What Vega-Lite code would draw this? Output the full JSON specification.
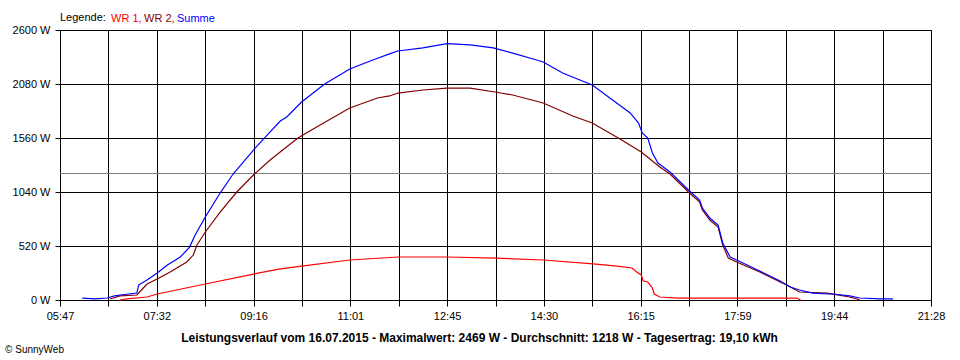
{
  "$schema": "https://vega.github.io/schema/vega-lite/v6.json",
  "autosize": {"type": "none"},
  "padding": {"left": 60, "top": 30, "right": 29, "bottom": 60},
  "width": 871,
  "height": 270,
  "background": "white",
  "title": {
    "text": "© SunnyWeb",
    "orient": "bottom",
    "anchor": "start",
    "frame": "bounds",
    "font": "Liberation Sans",
    "fontSize": 10,
    "fontWeight": "normal",
    "color": "black",
    "offset": 2,
    "dx": -7
  },
  "config": {
    "view": {"stroke": "black", "strokeWidth": 1},
    "axis": {
      "labelFont": "Liberation Sans",
      "labelFontSize": 11,
      "labelColor": "black",
      "titleFont": "Liberation Sans",
      "titleColor": "black",
      "domainColor": "black",
      "tickColor": "black",
      "gridColor": "black",
      "gridOpacity": 1,
      "gridWidth": 1
    },
    "legend": {
      "labelFont": "Liberation Sans",
      "titleFont": "Liberation Sans"
    }
  },
  "datasets": {
    "power": [
      {"s": "WR 1", "t": 412, "w": 0},
      {"s": "WR 1", "t": 419, "w": 10},
      {"s": "WR 1", "t": 441, "w": 29},
      {"s": "WR 1", "t": 452, "w": 58},
      {"s": "WR 1", "t": 504, "w": 154},
      {"s": "WR 1", "t": 556, "w": 250},
      {"s": "WR 1", "t": 585, "w": 299},
      {"s": "WR 1", "t": 608, "w": 327},
      {"s": "WR 1", "t": 660, "w": 385},
      {"s": "WR 1", "t": 712, "w": 414},
      {"s": "WR 1", "t": 765, "w": 414},
      {"s": "WR 1", "t": 818, "w": 404},
      {"s": "WR 1", "t": 869, "w": 385},
      {"s": "WR 1", "t": 923, "w": 347},
      {"s": "WR 1", "t": 949, "w": 327},
      {"s": "WR 1", "t": 965, "w": 308},
      {"s": "WR 1", "t": 970, "w": 270},
      {"s": "WR 1", "t": 975, "w": 241},
      {"s": "WR 1", "t": 977, "w": 183},
      {"s": "WR 1", "t": 982, "w": 173},
      {"s": "WR 1", "t": 987, "w": 116},
      {"s": "WR 1", "t": 989, "w": 58},
      {"s": "WR 1", "t": 995, "w": 29},
      {"s": "WR 1", "t": 1014, "w": 19},
      {"s": "WR 1", "t": 1114, "w": 19},
      {"s": "WR 1", "t": 1143, "w": 19},
      {"s": "WR 1", "t": 1147, "w": 0},

      {"s": "WR 2", "t": 401, "w": 10},
      {"s": "WR 2", "t": 412, "w": 39},
      {"s": "WR 2", "t": 430, "w": 48},
      {"s": "WR 2", "t": 433, "w": 77},
      {"s": "WR 2", "t": 441, "w": 154},
      {"s": "WR 2", "t": 452, "w": 202},
      {"s": "WR 2", "t": 466, "w": 270},
      {"s": "WR 2", "t": 484, "w": 366},
      {"s": "WR 2", "t": 491, "w": 433},
      {"s": "WR 2", "t": 495, "w": 530},
      {"s": "WR 2", "t": 504, "w": 655},
      {"s": "WR 2", "t": 520, "w": 847},
      {"s": "WR 2", "t": 538, "w": 1040},
      {"s": "WR 2", "t": 556, "w": 1204},
      {"s": "WR 2", "t": 574, "w": 1348},
      {"s": "WR 2", "t": 604, "w": 1560},
      {"s": "WR 2", "t": 628, "w": 1685},
      {"s": "WR 2", "t": 660, "w": 1849},
      {"s": "WR 2", "t": 690, "w": 1945},
      {"s": "WR 2", "t": 703, "w": 1965},
      {"s": "WR 2", "t": 712, "w": 1993},
      {"s": "WR 2", "t": 739, "w": 2022},
      {"s": "WR 2", "t": 765, "w": 2041},
      {"s": "WR 2", "t": 790, "w": 2041},
      {"s": "WR 2", "t": 817, "w": 2003},
      {"s": "WR 2", "t": 836, "w": 1974},
      {"s": "WR 2", "t": 869, "w": 1897},
      {"s": "WR 2", "t": 901, "w": 1772},
      {"s": "WR 2", "t": 922, "w": 1704},
      {"s": "WR 2", "t": 952, "w": 1550},
      {"s": "WR 2", "t": 975, "w": 1425},
      {"s": "WR 2", "t": 995, "w": 1281},
      {"s": "WR 2", "t": 1006, "w": 1213},
      {"s": "WR 2", "t": 1026, "w": 1040},
      {"s": "WR 2", "t": 1038, "w": 944},
      {"s": "WR 2", "t": 1041, "w": 867},
      {"s": "WR 2", "t": 1049, "w": 770},
      {"s": "WR 2", "t": 1058, "w": 703},
      {"s": "WR 2", "t": 1063, "w": 530},
      {"s": "WR 2", "t": 1069, "w": 404},
      {"s": "WR 2", "t": 1078, "w": 366},
      {"s": "WR 2", "t": 1103, "w": 270},
      {"s": "WR 2", "t": 1125, "w": 173},
      {"s": "WR 2", "t": 1132, "w": 144},
      {"s": "WR 2", "t": 1146, "w": 77},
      {"s": "WR 2", "t": 1176, "w": 67},
      {"s": "WR 2", "t": 1200, "w": 29},
      {"s": "WR 2", "t": 1208, "w": 10},
      {"s": "WR 2", "t": 1211, "w": 0},

      {"s": "Summe", "t": 371, "w": 19},
      {"s": "Summe", "t": 385, "w": 10},
      {"s": "Summe", "t": 398, "w": 19},
      {"s": "Summe", "t": 406, "w": 39},
      {"s": "Summe", "t": 412, "w": 48},
      {"s": "Summe", "t": 430, "w": 67},
      {"s": "Summe", "t": 432, "w": 144},
      {"s": "Summe", "t": 441, "w": 193},
      {"s": "Summe", "t": 452, "w": 260},
      {"s": "Summe", "t": 463, "w": 337},
      {"s": "Summe", "t": 477, "w": 414},
      {"s": "Summe", "t": 487, "w": 510},
      {"s": "Summe", "t": 493, "w": 626},
      {"s": "Summe", "t": 504, "w": 799},
      {"s": "Summe", "t": 520, "w": 1030},
      {"s": "Summe", "t": 534, "w": 1213},
      {"s": "Summe", "t": 556, "w": 1444},
      {"s": "Summe", "t": 569, "w": 1570},
      {"s": "Summe", "t": 585, "w": 1724},
      {"s": "Summe", "t": 592, "w": 1762},
      {"s": "Summe", "t": 608, "w": 1907},
      {"s": "Summe", "t": 633, "w": 2080},
      {"s": "Summe", "t": 660, "w": 2224},
      {"s": "Summe", "t": 685, "w": 2311},
      {"s": "Summe", "t": 703, "w": 2370},
      {"s": "Summe", "t": 712, "w": 2398},
      {"s": "Summe", "t": 739, "w": 2427},
      {"s": "Summe", "t": 765, "w": 2469},
      {"s": "Summe", "t": 790, "w": 2456},
      {"s": "Summe", "t": 815, "w": 2427},
      {"s": "Summe", "t": 836, "w": 2378},
      {"s": "Summe", "t": 862, "w": 2311},
      {"s": "Summe", "t": 869, "w": 2292},
      {"s": "Summe", "t": 890, "w": 2186},
      {"s": "Summe", "t": 922, "w": 2070},
      {"s": "Summe", "t": 944, "w": 1926},
      {"s": "Summe", "t": 963, "w": 1801},
      {"s": "Summe", "t": 972, "w": 1704},
      {"s": "Summe", "t": 976, "w": 1608},
      {"s": "Summe", "t": 982, "w": 1560},
      {"s": "Summe", "t": 987, "w": 1416},
      {"s": "Summe", "t": 993, "w": 1319},
      {"s": "Summe", "t": 1006, "w": 1233},
      {"s": "Summe", "t": 1026, "w": 1059},
      {"s": "Summe", "t": 1038, "w": 963},
      {"s": "Summe", "t": 1041, "w": 886},
      {"s": "Summe", "t": 1049, "w": 790},
      {"s": "Summe", "t": 1058, "w": 722},
      {"s": "Summe", "t": 1063, "w": 549},
      {"s": "Summe", "t": 1071, "w": 414},
      {"s": "Summe", "t": 1078, "w": 385},
      {"s": "Summe", "t": 1103, "w": 279},
      {"s": "Summe", "t": 1125, "w": 183},
      {"s": "Summe", "t": 1136, "w": 125},
      {"s": "Summe", "t": 1146, "w": 96},
      {"s": "Summe", "t": 1160, "w": 67},
      {"s": "Summe", "t": 1177, "w": 58},
      {"s": "Summe", "t": 1182, "w": 58},
      {"s": "Summe", "t": 1200, "w": 39},
      {"s": "Summe", "t": 1211, "w": 19},
      {"s": "Summe", "t": 1233, "w": 10},
      {"s": "Summe", "t": 1247, "w": 10}
    ],
    "avg": [{"avg": 1218}]
  },
  "layer": [
    {
      "data": {"name": "avg"},
      "mark": {"type": "rule", "color": "#808080", "strokeWidth": 1},
      "encoding": {
        "y": {"field": "avg", "type": "quantitative", "scale": {"domain": [0, 2600], "nice": false}}
      }
    },
    {
      "data": {"name": "power"},
      "mark": {"type": "line", "strokeWidth": 1.2, "interpolate": "linear"},
      "encoding": {
        "x": {
          "field": "t",
          "type": "quantitative",
          "scale": {"domain": [347, 1288], "nice": false, "zero": false},
          "axis": {
            "values": [347, 399.2778, 451.5556, 503.8333, 556.1111, 608.3889, 660.6667, 712.9444, 765.2222, 817.5, 869.7778, 922.0556, 974.3333, 1026.6111, 1078.8889, 1131.1667, 1183.4444, 1235.7222, 1288],
            "labelExpr": "['05:47','','07:32','','09:16','','11:01','','12:45','','14:30','','16:15','','17:59','','19:44','','21:28'][round((datum.value-347)/52.2778)]",
            "grid": true,
            "tickSize": 6,
            "labelPadding": 4,
            "labelFlush": false,
            "labelOverlap": false,
            "title": "Leistungsverlauf vom 16.07.2015 - Maximalwert: 2469 W - Durchschnitt: 1218 W - Tagesertrag: 19,10 kWh",
            "titleFontSize": 12,
            "titleFontWeight": "bold",
            "titleAnchor": "middle",
            "titleAlign": "center",
            "titleX": 419,
            "titleY": 41,
            "titleBaseline": "alphabetic"
          }
        },
        "y": {
          "field": "w",
          "type": "quantitative",
          "scale": {"domain": [0, 2600], "nice": false},
          "axis": {
            "values": [0, 520, 1040, 1560, 2080, 2600],
            "labelExpr": "datum.value + ' W'",
            "grid": true,
            "tickSize": 5,
            "labelPadding": 5,
            "title": null
          }
        },
        "color": {
          "field": "s",
          "type": "nominal",
          "scale": {"domain": ["WR 1", "WR 2", "Summe"], "range": ["#ff0000", "#800000", "#0000ff"]},
          "legend": {
            "orient": "top",
            "direction": "horizontal",
            "title": "Legende:",
            "titleOrient": "left",
            "titleFontSize": 11,
            "titleFontWeight": "normal",
            "titleColor": "black",
            "titlePadding": 4,
            "labelFontSize": 11,
            "symbolType": "circle",
            "symbolSize": 0.01,
            "symbolOpacity": 0,
            "symbolStrokeWidth": 0,
            "labelOffset": -10,
            "columnPadding": 1,
            "offset": 6,
            "labelExpr": "datum.label + (datum.value == 'Summe' ? '' : ',')",
            "encode": {"labels": {"update": {"fill": {"signal": "scale('color', datum.value)"}}}}
          }
        }
      }
    }
  ]
}
